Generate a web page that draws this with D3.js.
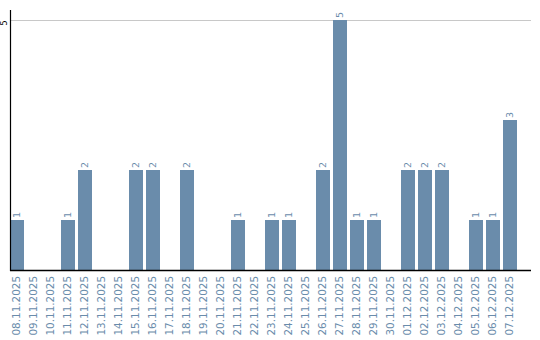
<!DOCTYPE html>
<html>
<head>
<meta charset="utf-8">
<script src="https://d3js.org/d3.v7.min.js"></script>
<style>
  body { margin: 0; background: #fff; }
  svg { display: block; }
  .bar { fill: #6a8cab; }
  .lbl { fill: #6a8cab; font-family: "DejaVu Sans", sans-serif; }
</style>
</head>
<body>
<svg id="chart" width="540" height="340"></svg>
<script>
// dates along the bottom
var days = ["08.11.2025","09.11.2025","10.11.2025","11.11.2025","12.11.2025","13.11.2025",
  "14.11.2025","15.11.2025","16.11.2025","17.11.2025","18.11.2025","19.11.2025","20.11.2025",
  "21.11.2025","22.11.2025","23.11.2025","24.11.2025","25.11.2025","26.11.2025","27.11.2025",
  "28.11.2025","29.11.2025","30.11.2025","01.12.2025","02.12.2025","03.12.2025","04.12.2025",
  "05.12.2025","06.12.2025","07.12.2025"];
// count per day
var counts = [1,0,0,1,2,0,0,2,2,0,2,0,0,1,0,1,1,0,2,5,1,1,0,2,2,2,0,1,1,3];
var yTicks = [5];

var svg = d3.select("#chart");
var mLeft = 10, mRight = 531, mTop = 20, mBottom = 270;

var x = d3.scaleBand()
  .domain(days)
  .range([mLeft, mLeft + 17 * (days.length - 0.18)])
  .paddingInner(0.18)
  .paddingOuter(0);

var y = d3.scaleLinear().domain([0, 5]).range([mBottom, mTop]);

var rows = days.map(function(d, i) { return { day: d, n: counts[i] }; });

// grid line
svg.selectAll(".grid").data(yTicks).enter().append("line")
  .attr("x1", mLeft).attr("x2", mRight)
  .attr("y1", function(d) { return y(d) + 0.5; })
  .attr("y2", function(d) { return y(d) + 0.5; })
  .attr("stroke", "#c8c8c8").attr("stroke-width", 1);

// y tick labels
svg.selectAll(".ytick").data(yTicks).enter().append("text")
  .attr("transform", function(d) { return "translate(6.5," + (y(d) + 3) + ") rotate(-90)"; })
  .attr("text-anchor", "middle")
  .attr("font-family", "DejaVu Sans, sans-serif")
  .attr("font-size", 8)
  .attr("fill", "#000")
  .text(function(d) { return d; });

// bars
svg.selectAll(".bar").data(rows).enter().append("rect")
  .attr("class", "bar")
  .attr("shape-rendering", "crispEdges")
  .attr("x", function(d) { return x(d.day); })
  .attr("width", x.bandwidth())
  .attr("y", function(d) { return y(d.n); })
  .attr("height", function(d) { return y(0) - y(d.n); });

// value labels
svg.selectAll(".val").data(rows.filter(function(d) { return d.n > 0; })).enter()
  .append("text")
  .attr("class", "lbl")
  .attr("font-size", 9.5)
  .attr("transform", function(d) {
    var cx = x(d.day) + x.bandwidth() / 2;
    return "translate(" + (cx + 3.5) + "," + (y(d.n) - 2) + ") rotate(-90)";
  })
  .text(function(d) { return d.n; });

// x labels
svg.selectAll(".xl").data(days).enter().append("text")
  .attr("class", "lbl")
  .attr("font-size", 10.4)
  .attr("text-anchor", "end")
  .attr("transform", function(d) {
    return "translate(" + (x(d) + x.bandwidth() / 2 + 3.5) + ",276) rotate(-90)";
  })
  .text(function(d) { return d; });

// axes
svg.append("line")
  .attr("x1", mLeft + 0.5).attr("x2", mLeft + 0.5)
  .attr("y1", 10).attr("y2", mBottom + 1)
  .attr("stroke", "#000").attr("stroke-width", 1.2);
svg.append("line")
  .attr("x1", mLeft).attr("x2", mRight)
  .attr("y1", mBottom + 0.5).attr("y2", mBottom + 0.5)
  .attr("stroke", "#000").attr("stroke-width", 1.5);
</script>
</body>
</html>
